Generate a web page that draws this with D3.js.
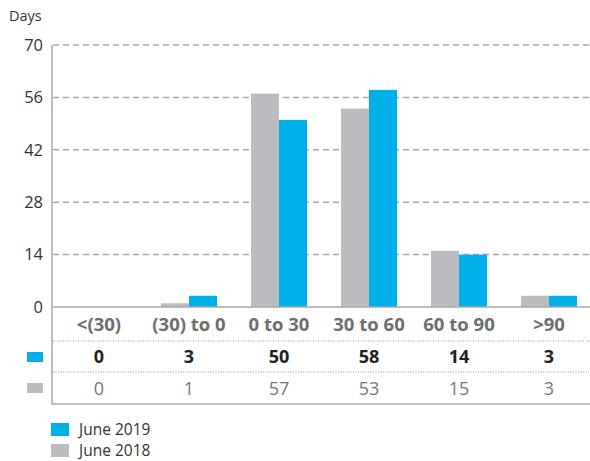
<!DOCTYPE html>
<html lang="en">
<head>
<meta charset="UTF-8">
<title>Days</title>
<script src="https://d3js.org/d3.v7.min.js"></script>
<style>
  body { margin: 0; background: #fff; }
  text { font-family: "Open Sans", sans-serif; }
</style>
</head>
<body>
<script>
    // chart data
    var categories = ['<(30)', '(30) to 0', '0 to 30', '30 to 60', '60 to 90', '>90'];
    var june2019 = [0, 3, 50, 58, 14, 3];
    var june2018 = [0, 1, 57, 53, 15, 3];
    var y_ticks = [0, 14, 28, 42, 56, 70];
    var series_names = ['June 2019', 'June 2018'];

    var width = 590;
    var height = 461;
    var blue = '#00b0e8';
    var grey = '#bbbcc0';
    var line_grey = '#a8a8a8';

    var svg = d3.select('body').append('svg')
        .attr('width', width)
        .attr('height', height);

    var x = d3.scaleBand().domain(categories).range([54, 594]).paddingInner(0).paddingOuter(0);
    var y = d3.scaleLinear().domain([0, 70]).range([307, 45]);
    var bar_w = 28;

    // dashed gridlines
    svg.selectAll('.grid')
        .data(y_ticks.filter(function (d) { return d > 0; }))
        .enter().append('line')
        .attr('x1', 53).attr('x2', 590)
        .attr('y1', function (d) { return y(d); })
        .attr('y2', function (d) { return y(d); })
        .attr('stroke', line_grey)
        .attr('stroke-width', 1.5)
        .attr('stroke-dasharray', '6,4');

    // tick labels
    svg.selectAll('.tick')
        .data(y_ticks)
        .enter().append('text')
        .attr('x', 43)
        .attr('y', function (d) { return y(d); })
        .attr('dy', '0.35em')
        .attr('text-anchor', 'end')
        .attr('font-size', 16.5)
        .attr('fill', '#333')
        .text(function (d) { return d; });

    svg.append('text')
        .attr('x', 9).attr('y', 21)
        .attr('font-size', 14.5)
        .attr('fill', '#333')
        .text('Days');

    // bars
    var g = svg.selectAll('.cat')
        .data(categories)
        .enter().append('g')
        .attr('transform', function (d) { return 'translate(' + (x(d) + x.bandwidth() / 2) + ',0)'; });

    g.append('rect')
        .attr('x', -bar_w)
        .attr('width', bar_w)
        .attr('y', function (d, i) { return y(june2018[i]); })
        .attr('height', function (d, i) { return y(0) - y(june2018[i]); })
        .attr('fill', grey);

    g.append('rect')
        .attr('x', 0)
        .attr('width', bar_w)
        .attr('y', function (d, i) { return y(june2019[i]); })
        .attr('height', function (d, i) { return y(0) - y(june2019[i]); })
        .attr('fill', blue);

    // table rows
    g.append('text')
        .attr('y', 331)
        .attr('text-anchor', 'middle')
        .attr('font-size', 18.5)
        .attr('font-weight', 'bold')
        .attr('fill', '#6e6e6e')
        .text(function (d) { return d; });

    g.append('text')
        .attr('y', 363)
        .attr('text-anchor', 'middle')
        .attr('font-size', 18)
        .attr('font-weight', 'bold')
        .attr('fill', '#222')
        .text(function (d, i) { return june2019[i]; });

    g.append('text')
        .attr('y', 395)
        .attr('text-anchor', 'middle')
        .attr('font-size', 18)
        .attr('fill', '#777')
        .text(function (d, i) { return june2018[i]; });

    // axis lines
    svg.append('line')
        .attr('x1', 52).attr('x2', 52)
        .attr('y1', 45).attr('y2', 404.5)
        .attr('stroke', line_grey).attr('stroke-width', 1.5);
    svg.append('line')
        .attr('x1', 52).attr('x2', 590)
        .attr('y1', y(0)).attr('y2', y(0))
        .attr('stroke', line_grey).attr('stroke-width', 1.5);
    svg.append('line')
        .attr('x1', 52).attr('x2', 590)
        .attr('y1', 404).attr('y2', 404)
        .attr('stroke', line_grey).attr('stroke-width', 1.5);
    [341, 372].forEach(function (yy) {
        svg.append('line')
            .attr('x1', 53).attr('x2', 590)
            .attr('y1', yy).attr('y2', yy)
            .attr('stroke', '#999').attr('stroke-width', 1)
            .attr('stroke-dasharray', '1,1.5');
    });

    // row swatches
    svg.append('rect').attr('x', 27).attr('y', 352).attr('width', 16).attr('height', 10).attr('fill', blue);
    svg.append('rect').attr('x', 27).attr('y', 383).attr('width', 16).attr('height', 10).attr('fill', grey);

    // legend
    var legend = svg.selectAll('.legend')
        .data(series_names)
        .enter().append('g')
        .attr('transform', function (d, i) { return 'translate(51,' + (423 + i * 21) + ')'; });
    legend.append('rect')
        .attr('width', 18).attr('height', 13)
        .attr('fill', function (d, i) { return i === 0 ? blue : grey; });
    legend.append('text')
        .attr('x', 28).attr('y', 6.5)
        .attr('dy', '0.35em')
        .attr('font-size', 15.5)
        .attr('fill', '#333')
        .text(function (d) { return d; });
</script>
</body>
</html>
